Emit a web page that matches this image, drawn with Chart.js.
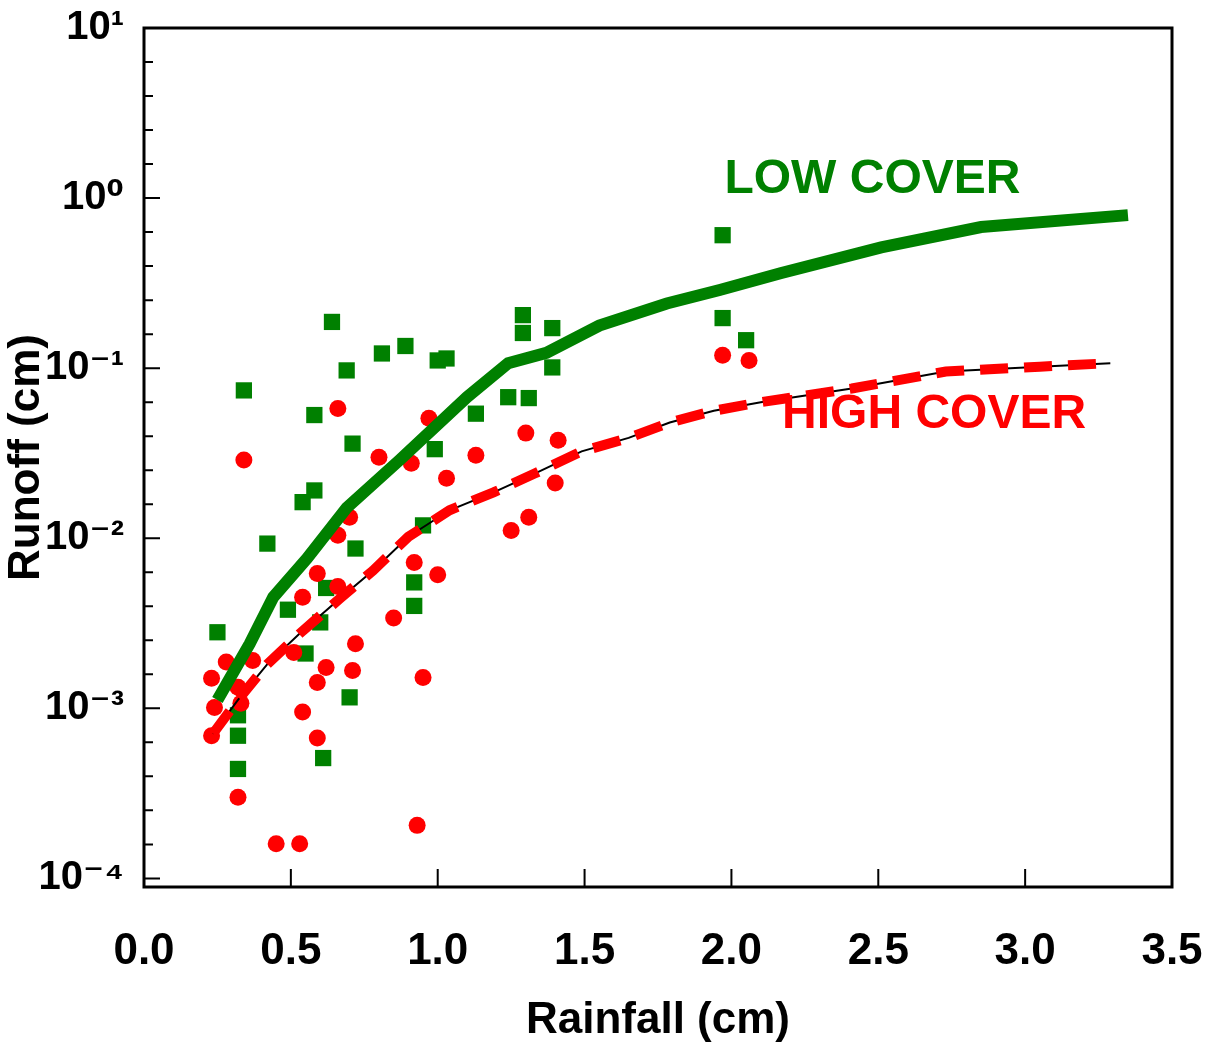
<!DOCTYPE html>
<html>
<head>
<meta charset="utf-8">
<script src="https://cdn.jsdelivr.net/npm/chart.js@4.4.1/dist/chart.umd.min.js"></script>
<style>
  body { margin: 0; background: #fff; }
  #wrap { width: 1211px; height: 1047px; }
</style>
</head>
<body>
<div id="wrap"><canvas id="chart"></canvas></div>
<script>
// scattered storms, low cover plots (green squares)
const lowCoverRain = [0.25, 0.32, 0.32, 0.32, 0.34, 0.42, 0.49, 0.54, 0.58, 0.62, 0.55, 0.60, 0.58, 0.61,
  0.64, 0.69, 0.70, 0.71, 0.72, 0.81, 0.89, 0.92, 0.92, 0.95, 0.99, 1.00, 1.03, 1.13, 1.24, 1.29, 1.29,
  1.31, 1.39, 1.39, 1.97, 1.97, 2.05];
const lowCoverRunoff = [0.0028, 0.00091, 0.00069, 0.00044, 0.074, 0.0093, 0.0038, 0.0163, 0.0191, 0.0051,
  0.0021, 0.0032, 0.053, 0.00051, 0.187, 0.097, 0.00116, 0.036, 0.0087, 0.122, 0.135, 0.0055, 0.0040,
  0.0119, 0.0334, 0.111, 0.114, 0.054, 0.0675, 0.205, 0.161, 0.0667, 0.172, 0.101, 0.605, 0.197, 0.146];

// high cover plots (red dots)
const highCoverRain = [0.66, 0.34, 0.97, 0.80, 0.91, 1.13, 1.03, 0.70, 0.66, 0.92, 1.00, 0.59, 0.66, 0.54,
  0.85, 0.72, 0.71, 0.62, 0.59, 0.95, 0.28, 0.37, 0.51, 0.23, 0.32, 0.24, 0.33, 0.23, 0.54, 0.59, 0.32,
  0.93, 0.45, 0.53, 1.30, 1.41, 1.40, 1.31, 1.25, 1.97, 2.06];
const highCoverRunoff = [0.058, 0.0288, 0.0508, 0.0299, 0.0276, 0.0308, 0.0225, 0.0133, 0.0104, 0.0072,
  0.0061, 0.0062, 0.0052, 0.0045, 0.0034, 0.0024, 0.00167, 0.00174, 0.00142, 0.00152, 0.00187, 0.00191,
  0.00213, 0.0015, 0.00133, 0.00101, 0.00107, 0.00069, 0.00095, 0.00067, 0.0003, 0.000205, 0.00016,
  0.00016, 0.0415, 0.0377, 0.0211, 0.0133, 0.0111, 0.119, 0.111];

// fitted curves
const lowFitRain = [0.25, 0.36, 0.44, 0.555, 0.69, 0.87, 1.10, 1.24, 1.37, 1.55, 1.78, 1.96, 2.17, 2.51, 2.85, 3.35];
const lowFitRunoff = [0.00112, 0.0024, 0.0045, 0.0076, 0.0151, 0.0288, 0.0676, 0.107, 0.123, 0.178, 0.24,
  0.288, 0.363, 0.513, 0.676, 0.794];
const highFitRain = [0.235, 0.32, 0.42, 0.53, 0.67, 0.78, 0.90, 1.04, 1.19, 1.33, 1.49, 1.65, 1.79, 1.94,
  2.10, 2.41, 2.73, 3.05, 3.29];
const highFitRunoff = [0.00071, 0.00112, 0.00182, 0.00275, 0.00447, 0.00646, 0.0102, 0.0146, 0.0186, 0.024,
  0.0324, 0.0389, 0.0479, 0.0562, 0.0631, 0.0759, 0.0955, 0.102, 0.107];

const yTickValues = [1e-4, 1e-3, 1e-2, 1e-1, 1, 10];
const yTickLabels = ["10\u207B\u2074", "10\u207B\u00B3", "10\u207B\u00B2", "10\u207B\u00B9", "10\u2070", "10\u00B9"];
const xTickValues = [0, 0.5, 1.0, 1.5, 2.0, 2.5, 3.0, 3.5];

const GREEN = "#008000";
const RED = "#ff0000";
const FONT = "'Liberation Sans', Arial, 'DejaVu Sans', sans-serif";

const pts = (xs, ys) => xs.map((x, i) => ({ x: x, y: ys[i] }));

// frame, inward ticks and the two curve labels
const decor = {
  id: "decor",
  afterDatasetsDraw(chart) {
    const { ctx, chartArea: a, scales: { x, y } } = chart;
    ctx.save();
    ctx.strokeStyle = "#000";
    ctx.lineWidth = 3;
    ctx.strokeRect(a.left, a.top, a.right - a.left, a.bottom - a.top);

    ctx.lineWidth = 2;
    ctx.beginPath();
    for (let d = -4; d <= 1; d += 0.2) {
      const py = y.getPixelForValue(Math.pow(10, d));
      if (py < a.top || py > a.bottom) continue;
      const major = Math.abs(d - Math.round(d)) < 1e-6;
      ctx.moveTo(a.left, py);
      ctx.lineTo(a.left + (major ? 16 : 9), py);
    }
    xTickValues.forEach(v => {
      const px = x.getPixelForValue(v);
      ctx.moveTo(px, a.bottom);
      ctx.lineTo(px, a.bottom - 18);
    });
    ctx.stroke();

    ctx.font = "bold 48px " + FONT;
    ctx.textAlign = "center";
    ctx.textBaseline = "middle";
    ctx.fillStyle = GREEN;
    ctx.fillText("LOW COVER", x.getPixelForValue(2.48), y.getPixelForValue(1.28));
    ctx.fillStyle = RED;
    ctx.fillText("HIGH COVER", x.getPixelForValue(2.69), y.getPixelForValue(0.053));
    ctx.restore();
  }
};

new Chart(document.getElementById("chart"), {
  type: "scatter",
  data: {
    datasets: [
      {
        label: "Low cover fit",
        data: pts(lowFitRain, lowFitRunoff),
        showLine: true,
        borderColor: GREEN,
        borderWidth: 12,
        pointRadius: 0,
        tension: 0,
        order: 0
      },
      {
        label: "High cover fit",
        data: pts(highFitRain, highFitRunoff),
        showLine: true,
        borderColor: RED,
        borderWidth: 10,
        borderDash: [28, 16],
        pointRadius: 0,
        tension: 0,
        order: 1
      },
      {
        label: "High cover fit (thin)",
        data: pts(highFitRain, highFitRunoff),
        showLine: true,
        borderColor: "#000",
        borderWidth: 2,
        pointRadius: 0,
        tension: 0,
        order: 2
      },
      {
        label: "High cover",
        data: pts(highCoverRain, highCoverRunoff),
        pointStyle: "circle",
        pointRadius: 8.5,
        backgroundColor: RED,
        borderColor: RED,
        borderWidth: 0,
        order: 3
      },
      {
        label: "Low cover",
        data: pts(lowCoverRain, lowCoverRunoff),
        pointStyle: "rect",
        pointRadius: 11.5,
        backgroundColor: GREEN,
        borderColor: GREEN,
        borderWidth: 0,
        order: 4
      }
    ]
  },
  options: {
    responsive: true,
    maintainAspectRatio: false,
    animation: false,
    layout: { padding: { top: 28, right: 39, left: 0, bottom: 0 } },
    plugins: { legend: { display: false }, tooltip: { enabled: false } },
    scales: {
      x: {
        type: "linear",
        min: 0,
        max: 3.5,
        afterBuildTicks: s => { s.ticks = xTickValues.map(v => ({ value: v })); },
        afterFit: s => {
          s.height = 1047 - 887;
          s.paddingLeft = 0;
          s.paddingRight = 0;
        },
        grid: { display: false },
        border: { display: false },
        ticks: {
          padding: 30,
          color: "#000",
          font: { family: FONT, size: 44, weight: "bold" },
          callback: v => v.toFixed(1)
        },
        title: {
          display: true,
          text: "Rainfall (cm)",
          color: "#000",
          font: { family: FONT, size: 44, weight: "bold" },
          padding: { top: 22, bottom: 0 }
        }
      },
      y: {
        type: "logarithmic",
        min: 0.000089,
        max: 10,
        afterBuildTicks: s => { s.ticks = yTickValues.map(v => ({ value: v })); },
        afterFit: s => {
          s.width = 144;
          s.paddingTop = 0;
          s.paddingBottom = 0;
        },
        grid: { display: false },
        border: { display: false },
        ticks: {
          autoSkip: false,
          padding: 12,
          color: "#000",
          font: { family: FONT, size: 40, weight: "bold" },
          callback: v => {
            const i = yTickValues.findIndex(t => Math.abs(t - v) / t < 1e-6);
            return i >= 0 ? yTickLabels[i] : "";
          }
        },
        title: {
          display: true,
          text: "Runoff (cm)",
          color: "#000",
          font: { family: FONT, size: 44, weight: "bold" },
          padding: { top: 0, bottom: 0 }
        }
      }
    }
  },
  plugins: [decor]
});
</script>
</body>
</html>
